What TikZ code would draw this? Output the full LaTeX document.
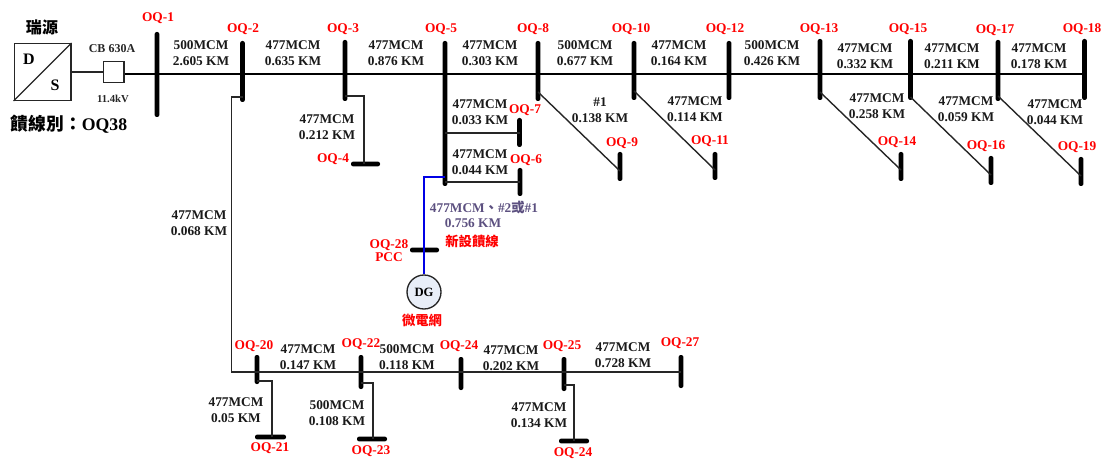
\documentclass[tikz,border=0pt]{standalone}
\usepackage{fontspec}
\setmainfont{Liberation Serif}
\newfontfamily\cjk{Noto Sans CJK TC}
\definecolor{labelred}{RGB}{255,0,0}
\definecolor{newline}{RGB}{92,80,128}
\definecolor{dgfill}{RGB}{232,238,248}
\newcommand{\vbus}[4]{\node[busbar,minimum width=3.6pt,minimum height={(#4-#3)*0.75pt}] (#1) at (#2,{(#3+#4)/2}) {};}
\newcommand{\hbus}[4]{\node[busbar,minimum height=3.6pt,minimum width={(#4-#3)*0.75pt}] (#1) at ({(#3+#4)/2},#2) {};}
\tikzset{
  busbar/.style={fill=black,rounded corners=1.6pt,inner sep=0pt,draw=none},
  mainline/.style={line width=1.7pt,black},
  feeder/.style={line width=1.05pt,black!85},
  newfeeder/.style={line width=1.05pt,blue!90!black},
  cable/.style={font=\bfseries\fontsize{10pt}{12.2pt}\selectfont,align=center,inner sep=0pt,text=black!90},
  tag/.style={font=\bfseries\fontsize{10pt}{9pt}\selectfont,align=center,inner sep=0pt,text=labelred},
  device/.style={draw=black!85,line width=1pt,fill=white,inner sep=0pt},
}
\begin{document}
\begin{tikzpicture}[x=0.75pt,y=-0.75pt]
\useasboundingbox (0,0) rectangle (1105,459);
\coordinate (m) at (157,74);
\coordinate (low) at (257,372);
% source and breaker
\node[device,minimum width=42.5pt,minimum height=42.5pt] (ds) at (42.5,72) {};
\node[device,minimum width=15.5pt,minimum height=15.5pt] (cb) at (113.5,72) {};
% buses
\vbus{b1}{157}{32}{117}
\vbus{b2}{242.5}{41}{102}
\vbus{b3}{345}{40}{101}
\hbus{b4}{164}{351}{380}
\vbus{b5}{445}{41}{186}
\vbus{b7}{519.5}{118}{147}
\vbus{b6}{520}{168}{196}
\vbus{b8}{538}{41}{101}
\vbus{b9}{620}{152}{181}
\vbus{b10}{634}{41}{100}
\vbus{b11}{715}{152}{180}
\vbus{b12}{729}{41}{100}
\vbus{b13}{820}{39}{100}
\vbus{b14}{901}{152}{181}
\vbus{b15}{910.5}{39}{100}
\vbus{b16}{991}{156}{185}
\vbus{b17}{998}{40}{101}
\vbus{b19}{1081}{157}{186}
\vbus{b18}{1084.5}{39}{100}
\hbus{b28}{250}{410}{439}
\vbus{b20}{257}{355}{384}
\vbus{b22}{361}{355}{389}
\vbus{b24}{461}{357}{390}
\vbus{b25}{564}{357}{391}
\vbus{b27}{681}{355}{388}
\hbus{b21}{437}{255}{286}
\hbus{b23}{439}{357}{387}
\hbus{b24x}{441}{559}{589}
\node[device,circle,fill=dgfill,minimum size=25.5pt] (dg) at (424,292) {};
% connectors
\draw[feeder] (ds.south west) -- (ds.north east);
\draw[feeder] (ds.east) -- (cb.west);
\draw[mainline] (cb.east |- m) -- (b18 |- m);
\draw[feeder] (b3 |- 0,96) -| (b4.center -| 364,0);
\draw[feeder] (b5 |- 0,133) -- (b7 |- 0,133);
\draw[feeder] (b5 |- 0,182) -- (b6 |- 0,182);
\draw[feeder] (b8 |- 0,92) -- (b9 |- 0,171);
\draw[feeder] (b10 |- 0,91) -- (b11 |- 0,170);
\draw[feeder] (b13 |- 0,92) -- (b14 |- 0,170);
\draw[feeder] (b15 |- 0,97) -- (b16 |- 0,175);
\draw[feeder] (b17 |- 0,96) -- (b19 |- 0,176);
\draw[feeder] (b2 |- 0,97) -| (231.7,372) -- (b27 |- low);
\draw[feeder] (b20 |- 0,381) -| (b21.center -| 272,0);
\draw[feeder] (b22 |- 0,383) -| (b23.center -| 373,0);
\draw[feeder] (b25 |- 0,385) -| (b24x.center -| 574,0);
\draw[newfeeder] (b5 |- 0,177) -| (dg.north -| 424,0);
% source texts
\node[inner sep=0pt,font=\bfseries\fontsize{12pt}{12pt}\selectfont] (td) at (29,59) {D};
\node[inner sep=0pt,font=\bfseries\fontsize{12pt}{12pt}\selectfont] (ts) at (55,85) {S};
\node[inner sep=0pt,font=\cjk\bfseries\fontsize{12pt}{12pt}\selectfont] (tsrc) at (42,27) {瑞源};
\node[inner sep=0pt,font=\bfseries\fontsize{13.3pt}{13pt}\selectfont] (tfeed) at (69,124) {{\cjk 饋線別：}OQ38};
\node[inner sep=0pt,text=black!85,font=\bfseries\fontsize{9pt}{9pt}\selectfont] (tcb) at (112,49) {CB 630A};
\node[inner sep=0pt,text=black!85,font=\bfseries\fontsize{8pt}{8pt}\selectfont] (tkv) at (113,99) {11.4kV};
\node[inner sep=0pt,font=\bfseries\fontsize{9.5pt}{9.5pt}\selectfont] (tdg) at (424,292) {DG};
% cable labels
\node[cable] (c1) at (201,53) {500MCM\\2.605 KM};
\node[cable] (c2) at (293,53) {477MCM\\0.635 KM};
\node[cable] (c3) at (396,53) {477MCM\\0.876 KM};
\node[cable] (c4) at (490,53) {477MCM\\0.303 KM};
\node[cable] (c5) at (585,53) {500MCM\\0.677 KM};
\node[cable] (c6) at (679,53) {477MCM\\0.164 KM};
\node[cable] (c7) at (772,53) {500MCM\\0.426 KM};
\node[cable] (c8) at (865,56) {477MCM\\0.332 KM};
\node[cable] (c9) at (952,56) {477MCM\\0.211 KM};
\node[cable] (c10) at (1039,56) {477MCM\\0.178 KM};
\node[cable] (c11) at (327,127) {477MCM\\0.212 KM};
\node[cable] (c12) at (480,112) {477MCM\\0.033 KM};
\node[cable] (c13) at (480,162) {477MCM\\0.044 KM};
\node[cable] (c14) at (600,110) {\#1\\0.138 KM};
\node[cable] (c15) at (695,109) {477MCM\\0.114 KM};
\node[cable] (c16) at (877,106) {477MCM\\0.258 KM};
\node[cable] (c17) at (966,109) {477MCM\\0.059 KM};
\node[cable] (c18) at (1055,112) {477MCM\\0.044 KM};
\node[cable] (c19) at (199,223) {477MCM\\0.068 KM};
\node[cable] (c20) at (308,357) {477MCM\\0.147 KM};
\node[cable] (c21) at (407,357) {500MCM\\0.118 KM};
\node[cable] (c22) at (511,358) {477MCM\\0.202 KM};
\node[cable] (c23) at (623,355) {477MCM\\0.728 KM};
\node[cable] (c24) at (236,410) {477MCM\\0.05 KM};
\node[cable] (c25) at (337,413) {500MCM\\0.108 KM};
\node[cable] (c26) at (539,415) {477MCM\\0.134 KM};
\node[cable,text=newline] (c27) at (484,207.5) {477MCM{\cjk 、}\#2{\cjk 或}\#1};
\node[cable,text=newline] (c28) at (473,223.5) {0.756 KM};
% bus tags
\node[tag] (t1) at (158,18) {OQ-1};
\node[tag] (t2) at (243,29) {OQ-2};
\node[tag] (t3) at (343,29) {OQ-3};
\node[tag] (t4) at (333,159) {OQ-4};
\node[tag] (t5) at (441,29) {OQ-5};
\node[tag] (t6) at (526,160) {OQ-6};
\node[tag] (t7) at (525,110) {OQ-7};
\node[tag] (t8) at (533,29) {OQ-8};
\node[tag] (t9) at (622,143) {OQ-9};
\node[tag] (t10) at (631,29) {OQ-10};
\node[tag] (t11) at (710,141) {OQ-11};
\node[tag] (t12) at (725,29) {OQ-12};
\node[tag] (t13) at (819,29) {OQ-13};
\node[tag] (t14) at (897,142) {OQ-14};
\node[tag] (t15) at (908,29) {OQ-15};
\node[tag] (t16) at (986,146) {OQ-16};
\node[tag] (t17) at (995,30) {OQ-17};
\node[tag] (t18) at (1082,29) {OQ-18};
\node[tag] (t19) at (1077,147) {OQ-19};
\node[tag] (t20) at (254,346) {OQ-20};
\node[tag] (t21) at (270,448) {OQ-21};
\node[tag] (t22) at (361,344) {OQ-22};
\node[tag] (t23) at (371,451) {OQ-23};
\node[tag] (t24) at (459,346) {OQ-24};
\node[tag] (t24x) at (573,453) {OQ-24};
\node[tag] (t25) at (562,346) {OQ-25};
\node[tag] (t27) at (680,343) {OQ-27};
\node[tag] (t28) at (389,245) {OQ-28};
\node[tag] (tpcc) at (389,257) {PCC};
\node[tag,font=\cjk\bfseries\fontsize{10pt}{10pt}\selectfont] (tnew) at (472,241) {新設饋線};
\node[tag,font=\cjk\bfseries\fontsize{10pt}{10pt}\selectfont] (tmg) at (422,320) {微電網};
\end{tikzpicture}
\end{document}
